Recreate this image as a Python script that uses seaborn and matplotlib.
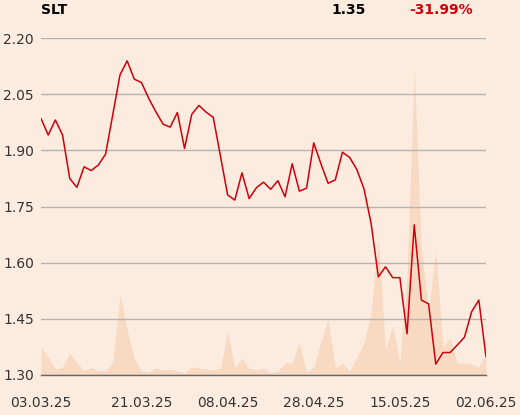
import numpy as np
import pandas as pd
import matplotlib
matplotlib.use('Agg')
import matplotlib.pyplot as plt
import seaborn as sns

# 数据: 交易日序号 0..62
price = [1.985, 1.941, 1.981, 1.941, 1.825, 1.801, 1.856, 1.846, 1.861, 1.890,
         1.995, 2.101, 2.139, 2.090, 2.081, 2.039, 2.003, 1.970, 1.962, 2.001,
         1.905, 1.996, 2.020, 2.002, 1.988, 1.885, 1.781, 1.767, 1.840, 1.771,
         1.800, 1.815, 1.796, 1.819, 1.776, 1.864, 1.791, 1.799, 1.920, 1.864,
         1.812, 1.821, 1.895, 1.881, 1.849, 1.797, 1.704, 1.562, 1.589, 1.560,
         1.560, 1.410, 1.701, 1.500, 1.490, 1.329, 1.360, 1.360, 1.380, 1.401,
         1.469, 1.500, 1.349]

volume = [28, 18, 6, 8, 22, 13, 4, 8, 4, 4,
          13, 81, 45, 16, 4, 3, 7, 5, 6, 4,
          2, 8, 7, 6, 5, 7, 44, 7, 17, 7,
          5, 7, 2, 4, 12, 12, 32, 3, 8, 33,
          56, 7, 12, 4, 18, 32, 62, 137, 25, 50,
          13, 100, 307, 127, 62, 125, 28, 37, 12, 12,
          11, 8, 22]

tick_pos = [0, 14, 26, 38, 50, 62]
tick_labels = ['03.03.25', '21.03.25', '08.04.25', '28.04.25', '15.05.25', '02.06.25']
y_ticks = [1.30, 1.45, 1.60, 1.75, 1.90, 2.05, 2.20]

ticker = 'SLT'
last_price = '1.35'
change = '-31.99%'

BG = '#FCECE0'
RED = '#D0000A'
VOL = '#F8DAC3'

sns.set_style('white')
plt.rcParams['font.family'] = ['DejaVu Sans']

df = pd.DataFrame({'idx': np.arange(len(price)), 'price': price, 'volume': volume})

fig = plt.figure(figsize=(5.2, 4.15), dpi=100, facecolor=BG)
ax = fig.add_axes([41 / 520, 1 - 375 / 415, 445 / 520, 337 / 415])

# 成交量 (背景面积)
axv = ax.twinx()
axv.fill_between(df['idx'], 0, df['volume'], color=VOL, lw=0, zorder=1)
axv.set_ylim(0, 337)
axv.set_yticks([])
for s in axv.spines.values():
    s.set_visible(False)
axv.set_zorder(0)
ax.set_zorder(1)
ax.patch.set_visible(False)
axv.patch.set_visible(False)

for y in y_ticks:
    ax.axhline(y, color='#B4B4B4', lw=1.0, zorder=0)

sns.lineplot(data=df, x='idx', y='price', color=RED, lw=1.1, ax=ax, zorder=3)

ax.set_xlim(0, 62)
ax.set_ylim(1.30, 2.20)
ax.set_yticks(y_ticks)
ax.set_yticklabels([f'{v:.2f}' for v in y_ticks], fontsize=10, color='#333333')
ax.set_xticks(tick_pos)
ax.set_xticklabels(tick_labels, fontsize=10, color='#333333')
ax.tick_params(axis='y', length=0, pad=5)
ax.tick_params(axis='x', length=10, width=1, color='#555555', pad=5, direction='out')
ax.set_xlabel('')
ax.set_ylabel('')
for name, s in ax.spines.items():
    s.set_visible(name == 'bottom')
ax.spines['bottom'].set_color('#666666')
ax.spines['bottom'].set_linewidth(1.0)

fig.text(41 / 520, 1 - 10 / 415, ticker, fontsize=10, fontweight='bold', color='black', va='center', ha='left')
fig.text(366 / 520, 1 - 10 / 415, last_price, fontsize=10, fontweight='bold', color='black', va='center', ha='right')
fig.text(473 / 520, 1 - 10 / 415, change, fontsize=10, fontweight='bold', color=RED, va='center', ha='right')

fig.savefig('out.png', dpi=100, facecolor=BG)
